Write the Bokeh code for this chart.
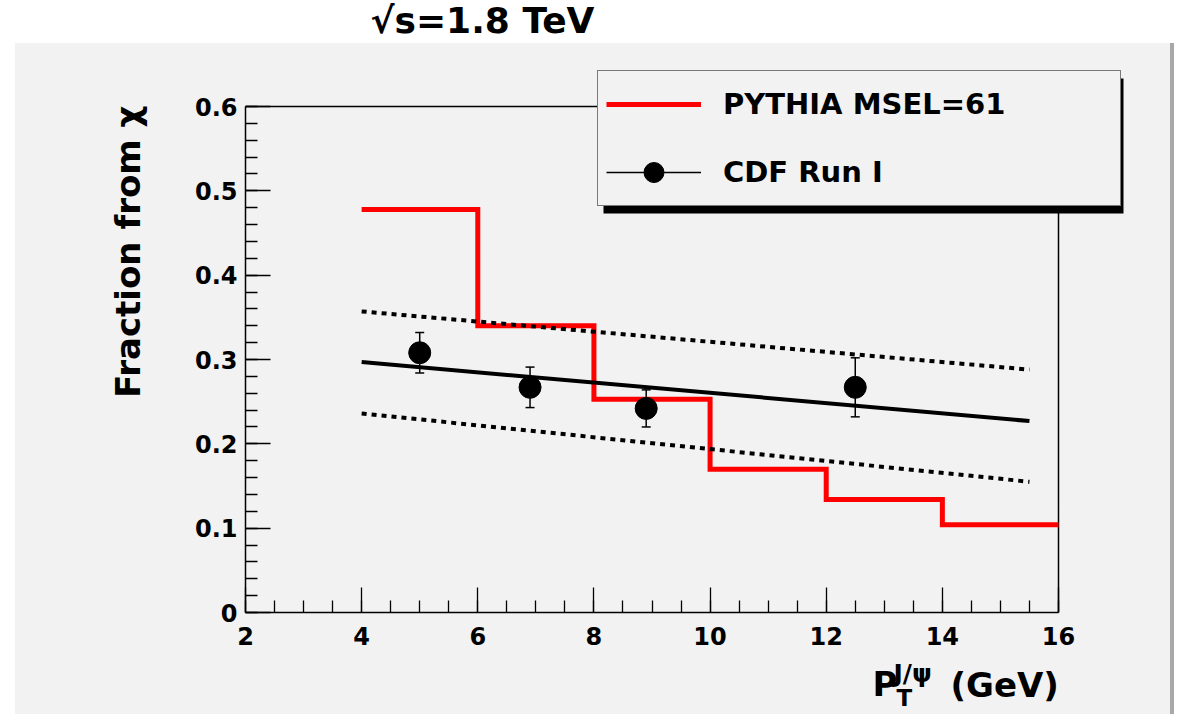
import math
import numpy as np
from bokeh.plotting import figure
from bokeh.layouts import column, row
from bokeh.models import (Range1d, FixedTicker, Label, BoxAnnotation, Legend, LegendItem,
                          Whisker, TeeHead, ColumnDataSource, Title, Spacer)
from bokeh.embed import file_html
from bokeh.resources import INLINE

# ---------------- data ----------------
pythia_edges = [4, 6, 8, 10, 12, 14, 16]
pythia_frac = [0.478, 0.340, 0.253, 0.170, 0.134, 0.104]

cdf_pt = [5.0, 6.9, 8.9, 12.5]
cdf_frac = [0.308, 0.267, 0.242, 0.267]
cdf_err = [0.024, 0.024, 0.022, 0.035]

fit_pt = [4.0, 15.5]
fit_central = [0.297, 0.227]
fit_upper = [0.357, 0.288]
fit_lower = [0.236, 0.155]

x_ticks = [2, 4, 6, 8, 10, 12, 14, 16]
x_tick_labels = ["2", "4", "6", "8", "10", "12", "14", "16"]
y_ticks = [0, 0.1, 0.2, 0.3, 0.4, 0.5, 0.6]
y_tick_labels = ["0", "0.1", "0.2", "0.3", "0.4", "0.5", "0.6"]

title_text = "\u221as=1.8 TeV"
y_title = "Fraction from \u03c7"
legend_labels = ["PYTHIA MSEL=61", "CDF Run I"]

# ---------------- page geometry (pixels) ----------------
FL, FR, FT, FB = 245, 1058, 106, 612     # ROOT frame box on the page
PANEL_L, PANEL_T, PANEL_R = 15, 43, 1170  # gray canvas
MAIN_B = 658                              # bottom of main figure
PAGE_W, PAGE_H = 1177, 714
ROOT_FONT = "DejaVu Sans"
GRAY = "#f2f2f2"
EDGE = "#a8a8a8"


def dx(px):
    return x_ticks[0] + (px - FL) * (x_ticks[-1] - x_ticks[0]) / (FR - FL)


def dy(py):
    return (FB - py) * (y_ticks[-1] - y_ticks[0]) / (FB - FT)


def base(y, size):
    # place a text's alphabetic baseline at page row y
    return y - 0.4 * size


# ---------------- title strip ----------------
tfig = figure(width=PAGE_W, height=PANEL_T, x_range=Range1d(0, PAGE_W),
              y_range=Range1d(PANEL_T, 0), output_backend="svg", toolbar_location=None,
              x_axis_location=None, y_axis_location=None,
              min_border=0, border_fill_color="white", background_fill_color="white",
              outline_line_color=None)
tfig.grid.visible = False
tfig.add_layout(Label(x=370, y=base(34, 36), text=title_text, text_font=ROOT_FONT,
                      text_font_style="bold", text_font_size="36px", text_color="black",
                      text_align="left", text_baseline="alphabetic"))

# ---------------- main plot ----------------
main_w = PANEL_R - PANEL_L
main_h = MAIN_B - PANEL_T
xr = Range1d(x_ticks[0], dx(PANEL_R))
p = figure(width=main_w, height=main_h,
           x_range=xr, y_range=Range1d(y_ticks[0], dy(PANEL_T)),
           output_backend="svg", toolbar_location=None,
           min_border_left=FL - PANEL_L, min_border_right=0,
           min_border_top=0, min_border_bottom=MAIN_B - FB,
           border_fill_color=GRAY, background_fill_color=GRAY,
           outline_line_color=None)
p.xgrid.visible = False
p.ygrid.visible = False

# axes
x_minor = list(np.arange(x_ticks[0], x_ticks[-1] + 0.001, 0.5))
y_minor = list(np.round(np.arange(y_ticks[0], y_ticks[-1] + 0.0001, 0.02), 3))
p.xaxis.ticker = FixedTicker(ticks=x_ticks, minor_ticks=x_minor)
p.yaxis.ticker = FixedTicker(ticks=y_ticks, minor_ticks=y_minor)
p.xaxis.major_label_overrides = {t: l for t, l in zip(x_ticks, x_tick_labels)}
p.yaxis.major_label_overrides = {t: l for t, l in zip(y_ticks, y_tick_labels)}
p.xaxis.bounds = (x_ticks[0], x_ticks[-1])
p.yaxis.bounds = (y_ticks[0], y_ticks[-1])
for ax in (p.xaxis, p.yaxis):
    ax.major_tick_in = 25
    ax.major_tick_out = 0
    ax.minor_tick_in = 12
    ax.minor_tick_out = 0
    ax.axis_line_width = 1.5
    ax.axis_line_color = "black"
    ax.major_tick_line_width = 1.3
    ax.minor_tick_line_width = 1.3
    ax.major_tick_line_color = "black"
    ax.minor_tick_line_color = "black"
    ax.major_label_text_font = ROOT_FONT
    ax.major_label_text_font_style = "bold"
    ax.major_label_text_font_size = "24px"
    ax.major_label_text_color = "black"
p.xaxis.major_label_standoff = 14
p.yaxis.major_label_standoff = 8

# top and right sides of the frame box
p.line(x=[x_ticks[0], x_ticks[-1], x_ticks[-1]], y=[y_ticks[-1], y_ticks[-1], y_ticks[0]],
       line_color="black", line_width=1.5)

# y-axis title (left panel)
p.add_layout(Title(text=y_title, align="right", offset=FT - PANEL_T - 1, standoff=88,
                   text_font=ROOT_FONT, text_font_style="bold", text_font_size="34px",
                   text_color="black"), "left")

# PYTHIA histogram
red = p.step(x=pythia_edges, y=pythia_frac + [pythia_frac[-1]], mode="after",
             line_color="#ff0000", line_width=5, line_join="miter")

# fit and band
p.line(fit_pt, fit_central, line_color="black", line_width=4)
p.line(fit_pt, fit_upper, line_color="black", line_width=4, line_dash="5 5")
p.line(fit_pt, fit_lower, line_color="black", line_width=4, line_dash="5 5")

# CDF points with error bars
src = ColumnDataSource(dict(x=cdf_pt, y=cdf_frac,
                            lower=[v - e for v, e in zip(cdf_frac, cdf_err)],
                            upper=[v + e for v, e in zip(cdf_frac, cdf_err)]))
p.add_layout(Whisker(source=src, base="x", lower="lower", upper="upper",
                     line_color="black", line_width=1.5,
                     lower_head=TeeHead(size=9, line_color="black", line_width=1.5),
                     upper_head=TeeHead(size=9, line_color="black", line_width=1.5)))
pts = p.scatter("x", "y", source=src, marker="circle", size=22,
                fill_color="black", line_color="black")
leg_line = p.line(x=[np.nan], y=[np.nan], line_color="black", line_width=1.5)

# legend shadow + legend
p.add_layout(BoxAnnotation(left=dx(603), right=dx(1123), top=dy(78), bottom=dy(213),
                           fill_color="black", fill_alpha=1, line_color=None))
legend = Legend(items=[LegendItem(label=legend_labels[0], renderers=[red]),
                       LegendItem(label=legend_labels[1], renderers=[leg_line, pts])],
                location=(597 - FL, FB - 206), margin=0, padding=8, spacing=18,
                glyph_width=95, glyph_height=50, label_standoff=22, label_width=389,
                label_height=50,
                label_text_font=ROOT_FONT, label_text_font_style="bold",
                label_text_font_size="29px", label_text_color="black",
                border_line_color="black", border_line_width=1.5,
                background_fill_color=GRAY, background_fill_alpha=1)
p.add_layout(legend, "center")

# ---------------- bottom strip with the x-axis title ----------------
bfig = figure(width=main_w, height=PAGE_H - MAIN_B, x_range=xr,
              y_range=Range1d(PAGE_H, MAIN_B), output_backend="svg", toolbar_location=None,
              x_axis_location=None, y_axis_location=None,
              min_border_left=FL - PANEL_L, min_border_right=0,
              min_border_top=0, min_border_bottom=0,
              border_fill_color=GRAY, background_fill_color=GRAY,
              outline_line_color=None)
bfig.grid.visible = False


def btext(px, y, t, size):
    bfig.add_layout(Label(x=dx(px), y=base(y, size), text=t, text_font=ROOT_FONT,
                          text_font_style="bold", text_font_size=f"{size}px",
                          text_color="black", text_align="left",
                          text_baseline="alphabetic"))


btext(872, 697, "P", 34)
btext(896, 707, "T", 23)
btext(893, 683, "J/\u03c8", 25)
btext(950, 698, "(GeV)", 34)

canvas = column(p, bfig, spacing=0,
                styles={"background-color": GRAY, "border-right": f"4px solid {EDGE}"})
layout = column(tfig, row(Spacer(width=PANEL_L, height=PAGE_H - PANEL_T), canvas, spacing=0),
                spacing=0)

open("out.html", "w", encoding="utf-8").write(file_html(layout, INLINE))
